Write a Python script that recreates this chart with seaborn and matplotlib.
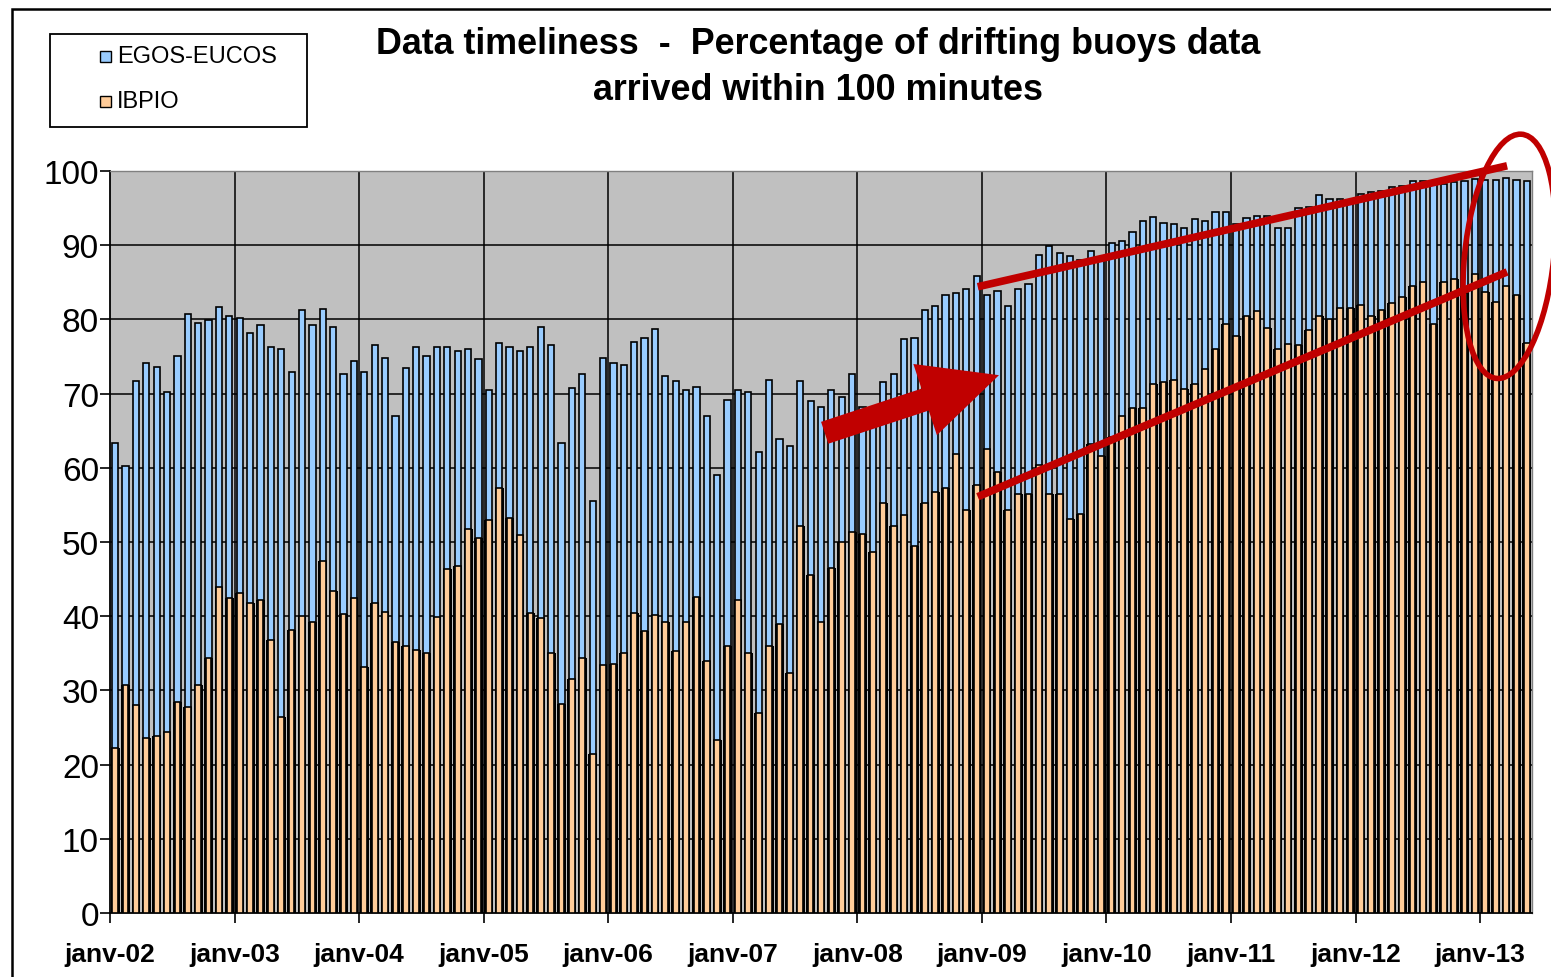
import numpy as np
import matplotlib
matplotlib.use("Agg")
import matplotlib.pyplot as plt
import seaborn as sns
from matplotlib.patches import Ellipse, Rectangle

# --- data (monthly, janv-02 .. mai-13) ---
egos_eucos = [
    63.4, 60.3, 71.7, 74.1, 73.6, 70.2, 75.1, 80.7, 79.5, 79.9, 81.7, 80.5,
    80.2, 78.1, 79.3, 76.3, 76.0, 72.9, 81.2, 79.3, 81.4, 79.0, 72.7, 74.4,
    72.9, 76.5, 74.8, 67.0, 73.4, 76.3, 75.1, 76.3, 76.3, 75.8, 76.0, 74.6,
    70.5, 76.8, 76.3, 75.8, 76.3, 79.0, 76.5, 63.4, 70.7, 72.7, 55.5, 74.8,
    74.1, 73.8, 77.0, 77.5, 78.7, 72.4, 71.7, 70.5, 70.9, 67.0, 59.0, 69.2,
    70.5, 70.2, 62.1, 71.9, 63.9, 62.9, 71.7, 69.0, 68.2, 70.5, 69.5, 72.6,
    68.2, 66.0, 71.5, 72.6, 77.3, 77.5, 81.2, 81.8, 83.3, 83.6, 84.1, 85.8,
    83.3, 83.8, 81.8, 84.1, 84.8, 88.7, 89.9, 89.0, 88.5, 88.0, 89.2, 88.0,
    90.3, 90.6, 91.8, 93.3, 93.8, 93.0, 92.8, 92.3, 93.5, 93.3, 94.5, 94.5,
    92.8, 93.7, 94.0, 94.0, 92.3, 92.3, 95.0, 95.2, 96.7, 96.2, 96.2, 96.0,
    96.9, 97.2, 97.3, 97.8, 98.0, 98.6, 98.6, 98.3, 98.2, 98.5, 98.7, 98.9,
    98.8, 98.8, 99.1, 98.8, 98.6,
]
ibpio = [
    22.2, 30.7, 28.0, 23.6, 23.8, 24.4, 28.5, 27.7, 30.7, 34.3, 43.9, 42.4,
    43.1, 41.8, 42.2, 36.8, 26.4, 38.2, 40.0, 39.2, 47.5, 43.4, 40.3, 42.4,
    33.2, 41.8, 40.6, 36.5, 36.0, 35.5, 35.1, 39.9, 46.3, 46.8, 51.8, 50.6,
    52.9, 57.3, 53.3, 50.9, 40.4, 39.7, 35.1, 28.2, 31.6, 34.3, 21.4, 33.4,
    33.6, 35.1, 40.4, 38.0, 40.2, 39.2, 35.3, 39.2, 42.6, 33.9, 23.3, 36.0,
    42.2, 35.1, 27.0, 36.0, 39.0, 32.4, 52.1, 45.5, 39.2, 46.5, 50.0, 51.4,
    51.1, 48.7, 55.2, 52.1, 53.6, 49.4, 55.2, 56.8, 57.3, 61.8, 54.3, 57.7,
    62.6, 59.4, 54.3, 56.5, 56.5, 60.4, 56.5, 56.5, 53.1, 53.8, 63.2, 61.6,
    64.1, 67.0, 68.1, 68.0, 71.3, 71.6, 71.9, 70.6, 71.3, 73.3, 76.0, 79.4,
    77.7, 80.4, 81.1, 78.9, 76.0, 76.7, 76.5, 78.6, 80.4, 80.0, 81.5, 81.6,
    82.0, 80.4, 81.3, 82.2, 83.0, 84.5, 85.0, 79.4, 85.0, 85.4, 83.5, 86.1,
    83.7, 82.3, 84.5, 83.3, 76.8,
]
year_labels = ["janv-02", "janv-03", "janv-04", "janv-05", "janv-06", "janv-07",
               "janv-08", "janv-09", "janv-10", "janv-11", "janv-12", "janv-13"]
series_names = ["EGOS-EUCOS", "IBPIO"]

BLUE = "#99CCFF"
ORANGE = "#FFCC99"
RED = "#C00000"

sns.set_theme(style="white")
plt.rcParams['font.family'] = ['Liberation Sans', 'DejaVu Sans']
plt.rcParams['text.color'] = 'black'

W, H = 1551, 978
n = len(egos_eucos)
mois = np.arange(n)

fig = plt.figure(figsize=(W / 100, H / 100), dpi=100)
ax = fig.add_axes([110 / W, 1 - 914 / H, (1532 - 110) / W, (914 - 172) / H])
ax.set_facecolor("#C0C0C0")

# grid first
for v in range(10, 100, 10):
    ax.axhline(v, color="black", lw=1.1, zorder=0.5)
for k in range(1, len(year_labels)):
    ax.axvline(-0.5 + 12 * k, color="black", lw=1.1, zorder=0.5)

sns.barplot(x=mois, y=egos_eucos, color=BLUE, saturation=1, width=0.6,
            edgecolor="black", linewidth=1.2, ax=ax, zorder=2)
# dark "shadow" between the orange bars
sns.barplot(x=mois, y=ibpio, color="black", saturation=1, width=0.85,
            linewidth=0, ax=ax, zorder=3)
sns.barplot(x=mois, y=ibpio, color=ORANGE, saturation=1, width=0.55,
            edgecolor="black", linewidth=1.2, ax=ax, zorder=4)

ax.set_xlim(-0.5, n - 0.5)
ax.set_ylim(0, 100)
ax.set_yticks(range(0, 101, 10))
ax.set_yticklabels([str(v) for v in range(0, 101, 10)], fontsize=24)
ax.set_xticks([-0.5 + 12 * k for k in range(len(year_labels))])
ax.set_xticklabels(year_labels, fontsize=19, fontweight="bold")
ax.tick_params(axis="both", direction="out", length=7, width=1.2, colors="black",
               bottom=True, left=True)
ax.tick_params(axis="x", pad=14)
ax.tick_params(axis="y", pad=1)
ax.set_xlabel("")
ax.set_ylabel("")
for s in ["left", "bottom"]:
    ax.spines[s].set_color("black")
    ax.spines[s].set_linewidth(1.3)
for s in ["top", "right"]:
    ax.spines[s].set_color("#808080")
    ax.spines[s].set_linewidth(1.0)

# red annotations
ax.plot([83.1, 134.1], [84.4, 100.7], color=RED, lw=5.5, solid_capstyle="butt",
        zorder=6, clip_on=False)
ax.plot([83.1, 134.1], [56.1, 86.4], color=RED, lw=5.5, solid_capstyle="butt",
        zorder=6, clip_on=False)
ax.annotate("", xy=(85.4, 72.6), xytext=(68.1, 64.6),
            arrowprops=dict(arrowstyle="simple,head_length=5.6,head_width=5.4,tail_width=1.66",
                            mutation_scale=10, color=RED, lw=0),
            zorder=6)
ax.add_patch(Ellipse((134.3, 88.5), width=8.6, height=33.0, angle=-4,
                     fill=False, edgecolor=RED, lw=4, zorder=7, clip_on=False))

# legend box drawn by hand (Excel-style)
def fx(px):
    return px / W


def fy(py):
    return 1 - py / H


fig.patches.append(Rectangle((fx(50), fy(128)), fx(307) - fx(50), fy(35) - fy(128),
                             transform=fig.transFigure, facecolor="white",
                             edgecolor="black", lw=1.3))
for name, col, yc in zip(series_names, [BLUE, ORANGE], [57, 102]):
    fig.patches.append(Rectangle((fx(100), fy(yc + 6)), fx(111) - fx(100), fy(yc - 5) - fy(yc + 6),
                                 transform=fig.transFigure, facecolor=col,
                                 edgecolor="black", lw=1.0))
    fig.text(fx(117), fy(yc), name, ha="left", va="center", fontsize=17, color="black")

# title
fig.text(fx(818), fy(45), "Data timeliness  -  Percentage of drifting buoys data",
         ha="center", va="center", fontsize=25.8, fontweight="bold", color="black")
fig.text(fx(818), fy(90), "arrived within 100 minutes",
         ha="center", va="center", fontsize=25.8, fontweight="bold", color="black")

# outer frame of the chart object
fig.patches.append(Rectangle((fx(12), -0.05), 1.05, fy(10) + 0.05,
                             transform=fig.transFigure, fill=False,
                             edgecolor="black", lw=1.8))

fig.savefig("out.png", dpi=100)
